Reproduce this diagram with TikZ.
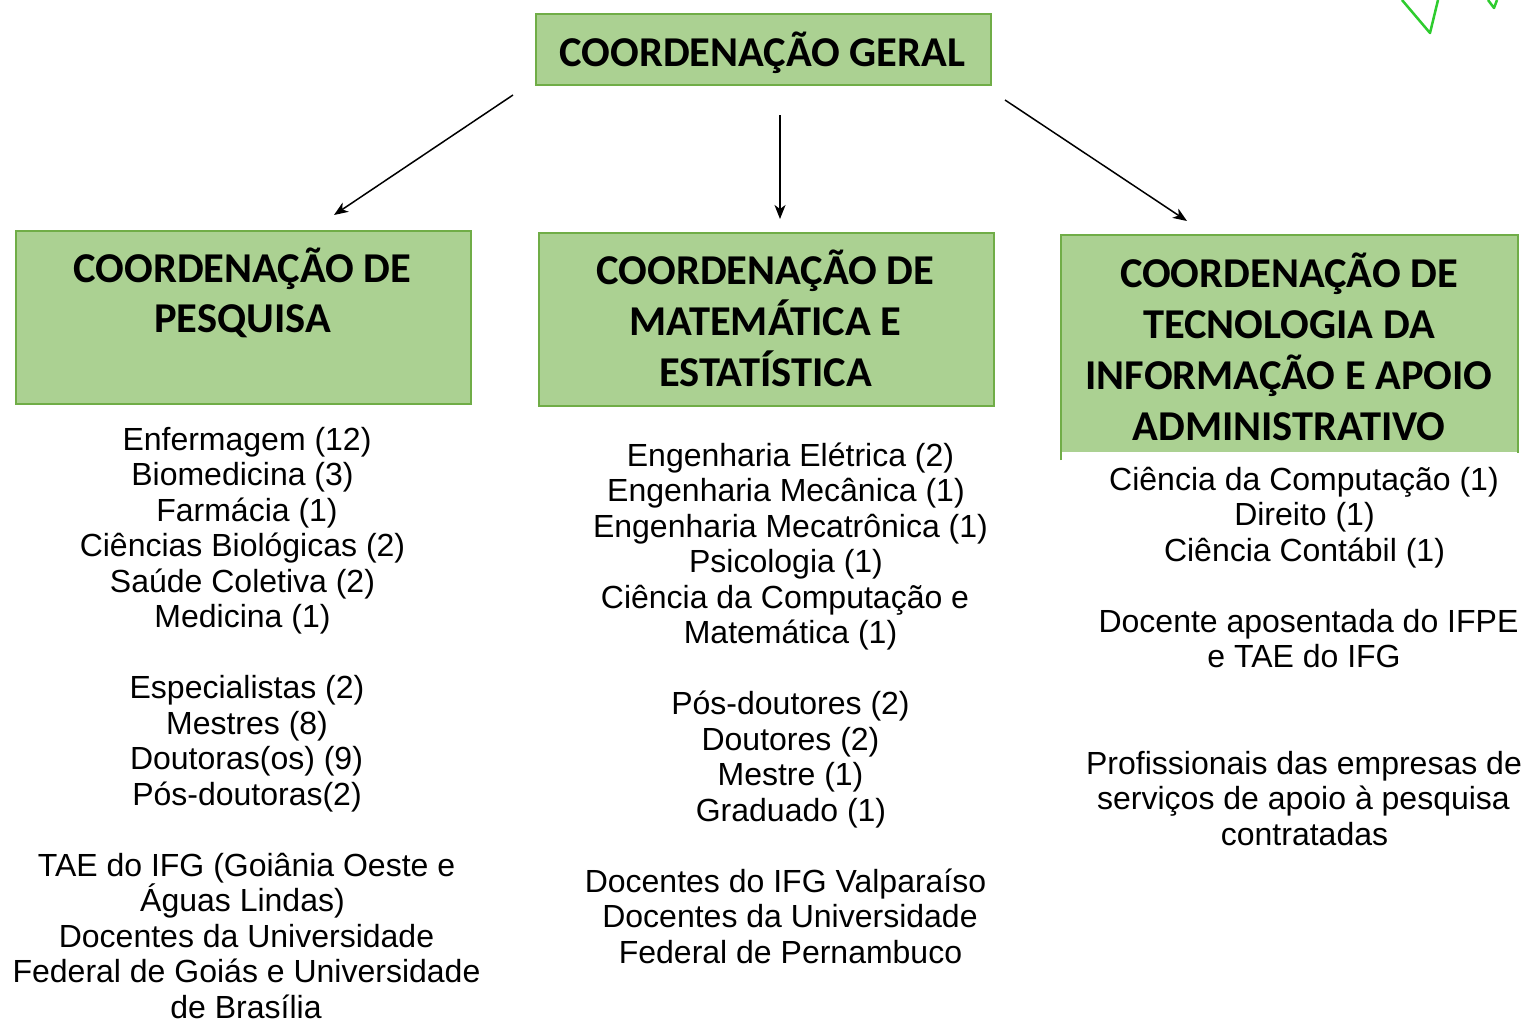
\documentclass[tikz,border=0pt]{standalone}
\usepackage{fontspec}
\setmainfont{Liberation Sans}
\newfontfamily\headfont{Carlito}
\usetikzlibrary{arrows.meta}
\definecolor{boxfill}{HTML}{ABD192}
\definecolor{boxline}{HTML}{70AD47}
\definecolor{deco}{HTML}{2ECC2E}
\tikzset{
  box/.style={draw=boxline, fill=boxfill, line width=2pt, inner sep=0pt, anchor=north west},
  head/.style={font=\headfont\bfseries\fontsize{42.5}{51}\selectfont, anchor=base, inner sep=0pt},
  body/.style={font=\fontsize{32}{35.5}\selectfont, anchor=base, inner sep=0pt},
  arr/.style={-{Stealth[length=14pt,width=11pt,inset=4pt]}, line width=1.5pt},
  decoline/.style={draw=deco, line width=2.5pt, line join=round}
}
\begin{document}
\begin{tikzpicture}[x=1pt,y=1pt]
\useasboundingbox (0,0) rectangle (1529,-1021);
\fill[white] (0,0) rectangle (1529,-1021);

% decoration top right
\draw[decoline] (1402,0) -- (1430,-33) -- (1438,0);
\draw[decoline] (1488,0) -- (1494,-8) -- (1497,0);

% boxes
\node[box, minimum width=455pt, minimum height=71pt] (geral) at (535,-13) {};
\node[box, minimum width=455pt, minimum height=173pt] (pesq) at (15,-230) {};
\node[box, minimum width=455pt, minimum height=173pt] (mat) at (538,-232) {};
\node[box, draw=none, minimum width=455pt, minimum height=216pt] (tec) at (1061,-235) {};
\draw[boxline, line width=2pt] ([yshift=-7pt]tec.south west) -- (tec.north west) -- (tec.north east) -- (tec.south east);

% headings
\node[head] (hg) at (762.5,-66) {COORDENAÇÃO GERAL};
\node[head] (hp1) at (242.5,-282) {COORDENAÇÃO DE};
\node[head] (hp2) at (242.5,-332) {PESQUISA};
\node[head] (hm1) at (765.5,-284) {COORDENAÇÃO DE};
\node[head] (hm2) at (765.5,-335) {MATEMÁTICA E};
\node[head] (hm3) at (765.5,-386) {ESTATÍSTICA};
\node[head] (ht1) at (1289,-287) {COORDENAÇÃO DE};
\node[head] (ht2) at (1289,-338) {TECNOLOGIA DA};
\node[head] (ht3) at (1289,-389) {INFORMAÇÃO E APOIO};
\node[head] (ht4) at (1289,-440) {ADMINISTRATIVO};

% arrows
\coordinate (a1s) at (513,-95);
\coordinate (a1e) at (334,-215);
\coordinate (a2s) at (780,-115);
\coordinate (a2e) at (780,-219);
\coordinate (a3s) at (1005,-100);
\coordinate (a3e) at (1187,-221);
\draw[arr] (a1s) -- (a1e);
\draw[arr] (a2s) -- (a2e);
\draw[arr] (a3s) -- (a3e);

% column 1
\foreach \k/\x/\t [count=\i] in {
  0/247/Enfermagem (12),
  1/242.5/Biomedicina (3),
  2/247/Farmácia (1),
  3/242.5/Ciências Biológicas (2),
  4/242.5/Saúde Coletiva (2),
  5/242.5/Medicina (1),
  7/247/Especialistas (2),
  8/247/Mestres (8),
  9/246.5/Doutoras(os) (9),
  10/247/Pós-doutoras(2),
  12/246.5/TAE do IFG (Goiânia Oeste e,
  13/242.5/Águas Lindas),
  14/246.5/Docentes da Universidade,
  15/246.5/Federal de Goiás e Universidade,
  16/246/de Brasília}
  \node[body] (pa\i) at ({\x},{-450-35.5*\k}) {\t};

% column 2
\foreach \k/\x/\t [count=\i] in {
  0/790.5/Engenharia Elétrica (2),
  1/786/Engenharia Mecânica (1),
  2/790.5/Engenharia Mecatrônica (1),
  3/786/Psicologia (1),
  4/785/Ciência da Computação e,
  5/790.5/Matemática (1),
  7/790.5/Pós-doutores (2),
  8/790.5/Doutores (2),
  9/790.5/Mestre (1),
  10/791/Graduado (1),
  12/785.5/Docentes do IFG Valparaíso,
  13/790/Docentes da Universidade,
  14/790.5/Federal de Pernambuco}
  \node[body] (ma\i) at ({\x},{-466-35.5*\k}) {\t};

% column 3
\foreach \k/\x/\t [count=\i] in {
  0/1304/Ciência da Computação (1),
  1/1304.5/Direito (1),
  2/1304.5/Ciência Contábil (1),
  4/1308.5/Docente aposentada do IFPE,
  5/1304/e TAE do IFG,
  8/1304/Profissionais das empresas de,
  9/1303.5/serviços de apoio à pesquisa,
  10/1304.5/contratadas}
  \node[body] (te\i) at ({\x},{-490-35.5*\k}) {\t};
\end{tikzpicture}
\end{document}
